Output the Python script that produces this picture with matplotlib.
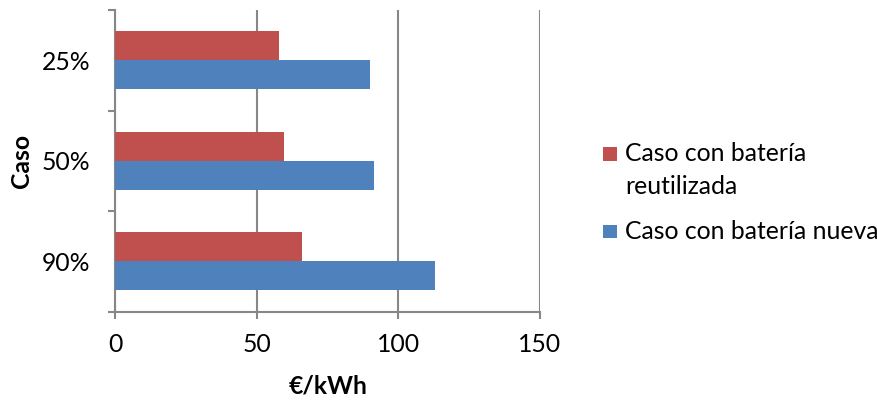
import matplotlib
matplotlib.use("Agg")
import matplotlib.pyplot as plt
from matplotlib.patches import Rectangle
import numpy as np

# Data
categories = ["25%", "50%", "90%"]
series_names = ["Caso con batería\nreutilizada", "Caso con batería nueva"]
reutilizada = [57.8, 59.5, 66.1]
nueva = [89.8, 91.5, 112.9]
xticks = [0, 50, 100, 150]

RED = "#C0504D"
BLUE = "#4F81BD"
GRID = "#878787"
FONT = "Lato"
FS = 17.8

plt.rcParams["font.family"] = [FONT, "DejaVu Sans"]

W, H = 878, 400
fig = plt.figure(figsize=(W / 100, H / 100), dpi=100)
left, right, top, bottom = 115.3, 540.0, 10.0, 311.7
ax = fig.add_axes([left / W, 1 - bottom / H, (right - left) / W, (bottom - top) / H])

y = np.arange(len(categories))
bh = 0.288
ax.barh(y - bh / 2, reutilizada, height=bh, color=RED, zorder=3)
ax.barh(y + bh / 2, nueva, height=bh, color=BLUE, zorder=3)

ax.set_xlim(0, 150)
ax.set_ylim(len(categories) - 0.5, -0.5)
ax.set_xticks(xticks)
ax.set_xticklabels([str(t) for t in xticks], fontsize=FS)
ax.set_yticks(y)
ax.set_yticklabels(categories, fontsize=FS)
ax.set_yticks(np.arange(len(categories) + 1) - 0.5, minor=True)

for s in ["top", "right"]:
    ax.spines[s].set_visible(False)
for s in ["left", "bottom"]:
    ax.spines[s].set_color(GRID)
    ax.spines[s].set_linewidth(1.5)

ax.xaxis.grid(True, color=GRID, linewidth=1.5, zorder=0)
ax.tick_params(axis="x", which="major", length=5, width=1.5, color=GRID, pad=10, labelcolor="black")
ax.tick_params(axis="y", which="major", length=0, pad=18, labelcolor="black")
ax.tick_params(axis="y", which="minor", length=5, width=1.5, color=GRID)

ax.set_xlabel("€/kWh", fontsize=FS, fontweight="bold")
ax.xaxis.set_label_coords(0.5, -0.246)
ax.xaxis.label.set_va("center")
ax.set_ylabel("Caso", fontsize=FS, fontweight="bold")
ax.yaxis.set_label_coords(-0.222, 0.5)
ax.yaxis.label.set_va("center")

# Legend (drawn manually to match layout)
sq = 13.5
entries = [(series_names[0], RED, 147.3), (series_names[1], BLUE, 225.0)]
for label, col, ytop in entries:
    fig.patches.append(Rectangle((603.5 / W, 1 - (ytop + sq) / H), sq / W, sq / H,
                                 transform=fig.transFigure, facecolor=col, edgecolor="none"))
    fig.text(625 / W, 1 - (ytop + sq + 0.5) / H, label.split("\n")[0], fontsize=FS,
             va="baseline", ha="left")
    if "\n" in label:
        fig.text(625 / W, 1 - (ytop + sq + 33) / H, label.split("\n")[1], fontsize=FS,
                 va="baseline", ha="left")

fig.savefig("out.png", dpi=100)
